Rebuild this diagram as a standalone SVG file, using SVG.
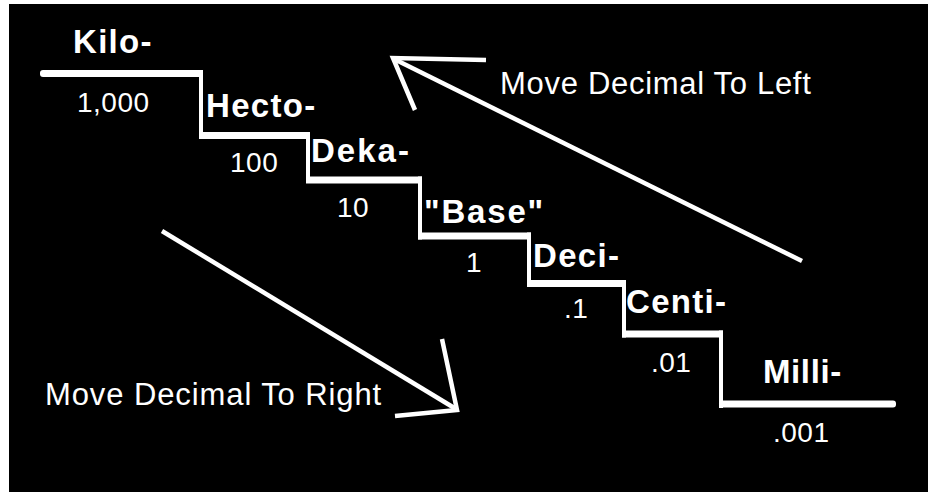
<svg xmlns="http://www.w3.org/2000/svg" width="928" height="492" viewBox="0 0 928 492">
  <style>
    .prefix { font-family: "Liberation Sans", Arial, sans-serif; font-weight: bold; font-size: 33px; fill: #fff; letter-spacing: 1.3px; }
    .value { font-family: "Liberation Sans", Arial, sans-serif; font-size: 28px; fill: #fff; letter-spacing: 0.5px; }
    .hint { font-family: "Liberation Sans", Arial, sans-serif; font-size: 31px; fill: #fff; letter-spacing: 0.7px; }
    .tread { fill: #fff; }
    .riser { fill: #fff; }
    .arrow { fill: none; stroke: #fff; stroke-width: 4.5; stroke-linejoin: miter; }
  </style>

  <!-- page -->
  <rect x="0" y="0" width="928" height="492" fill="#fff"/>
  <rect x="9" y="4" width="919" height="488" fill="#000"/>

  <!-- staircase: treads (horizontal) and risers (vertical) -->
  <g id="staircase">
    <rect class="tread" x="40" y="70" width="163" height="7" rx="3"/>
    <rect class="riser" x="199" y="70" width="4" height="69"/>
    <rect class="tread" x="199" y="132" width="111" height="7"/>
    <rect class="riser" x="306" y="132" width="4" height="51"/>
    <rect class="tread" x="306" y="176.5" width="116" height="7"/>
    <rect class="riser" x="418" y="176.5" width="4" height="63"/>
    <rect class="tread" x="418" y="232.5" width="113" height="7"/>
    <rect class="riser" x="527" y="232.5" width="4" height="54.5"/>
    <rect class="tread" x="527" y="280" width="99" height="7"/>
    <rect class="riser" x="622" y="280" width="4" height="57.5"/>
    <rect class="tread" x="622" y="330.5" width="101" height="7"/>
    <rect class="riser" x="719" y="330.5" width="4" height="77.5"/>
    <rect class="tread" x="719" y="400.5" width="177" height="7" rx="3"/>
  </g>

  <!-- metric prefixes with their multipliers -->
  <g id="kilo">
    <text class="prefix" x="73" y="53">Kilo-</text>
    <text class="value" x="77" y="112">1,000</text>
  </g>
  <g id="hecto">
    <text class="prefix" x="206" y="117">Hecto-</text>
    <text class="value" x="230" y="172">100</text>
  </g>
  <g id="deka">
    <text class="prefix" x="311" y="162" style="letter-spacing:2px">Deka-</text>
    <text class="value" x="337" y="217">10</text>
  </g>
  <g id="base">
    <text class="prefix" x="424" y="223" style="letter-spacing:1.8px">"Base"</text>
    <text class="value" x="466" y="272">1</text>
  </g>
  <g id="deci">
    <text class="prefix" x="533" y="267">Deci-</text>
    <text class="value" x="564" y="318">.1</text>
  </g>
  <g id="centi">
    <text class="prefix" x="626" y="313">Centi-</text>
    <text class="value" x="651" y="372">.01</text>
  </g>
  <g id="milli">
    <text class="prefix" x="763" y="383" style="letter-spacing:0.6px">Milli-</text>
    <text class="value" x="773" y="442">.001</text>
  </g>

  <!-- direction hints -->
  <g id="hint-left">
    <text class="hint" x="500" y="94">Move Decimal To Left</text>
  </g>
  <g id="hint-right">
    <text class="hint" x="45" y="405" style="letter-spacing:0.9px">Move Decimal To Right</text>
  </g>

  <!-- arrows -->
  <g id="connectors">
    <line class="arrow" x1="802" y1="261" x2="394" y2="59"/>
    <polyline class="arrow" points="486,60 393,58 415,110"/>
    <line class="arrow" x1="162" y1="231" x2="456" y2="409"/>
    <polyline class="arrow" points="442,339 457,410 395,416"/>
  </g>
</svg>
